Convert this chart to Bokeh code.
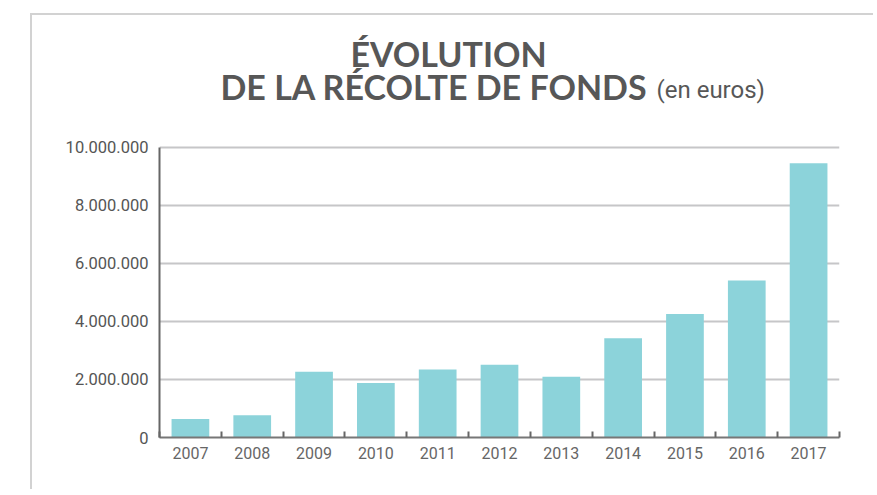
from bokeh.plotting import figure
from bokeh.models import Range1d, FixedTicker, Label
from bokeh.embed import file_html
from bokeh.resources import INLINE

years = ["2007", "2008", "2009", "2010", "2011", "2012", "2013", "2014", "2015", "2016", "2017"]
amounts = [640000, 770000, 2270000, 1880000, 2340000, 2510000, 2090000, 3420000, 4260000, 5410000, 9450000]
y_ticks = [0, 2000000, 4000000, 6000000, 8000000, 10000000]
y_tick_labels = ["0", "2.000.000", "4.000.000", "6.000.000", "8.000.000", "10.000.000"]

idx = list(range(len(years)))
bounds = [i - 0.5 for i in range(len(years) + 1)]
y_axis_top = y_ticks[-1]
y_view_top = 14200000  # extra headroom inside the frame holds the title

p = figure(width=843, height=476, output_backend="svg", toolbar_location=None,
           x_range=Range1d(-0.5, len(years) - 0.5), y_range=Range1d(0, y_view_top),
           min_border_left=127, min_border_right=36, min_border_top=10, min_border_bottom=54,
           styles={"margin-left": "30px", "margin-top": "13px",
                   "border-left": "2px solid #d2d2d2", "border-top": "2px solid #d2d2d2"})
p.outline_line_color = None

p.vbar(x=idx, top=amounts, width=0.61, color="#8cd3da", line_color=None)

xa = p.xaxis[0]
xa.ticker = FixedTicker(ticks=idx, minor_ticks=bounds)
xa.major_label_overrides = {i: y for i, y in zip(idx, years)}
xa.major_tick_line_color = None
xa.minor_tick_in = 6
xa.minor_tick_out = 0
xa.minor_tick_line_color = "#666666"
xa.minor_tick_line_width = 2
xa.axis_line_color = "#777777"
xa.axis_line_width = 2
xa.major_label_text_font = "Roboto"
xa.major_label_text_font_size = "16px"
xa.major_label_text_color = "#666666"
xa.major_label_standoff = 3

ya = p.yaxis[0]
ya.ticker = FixedTicker(ticks=y_ticks, minor_ticks=[])
ya.bounds = (0, y_axis_top)
ya.major_label_overrides = {t: l for t, l in zip(y_ticks, y_tick_labels)}
ya.major_tick_line_color = None
ya.minor_tick_line_color = None
ya.axis_line_color = "#666666"
ya.axis_line_width = 2
ya.major_label_text_font = "Roboto"
ya.major_label_text_font_size = "16.5px"
ya.major_label_text_color = "#555555"
ya.major_label_standoff = 5

p.xgrid.grid_line_color = None
p.ygrid.grid_line_color = "#c6c6c8"
p.ygrid.grid_line_width = 2

title_color = "#575757"
p.add_layout(Label(x=191, y=384, x_units="screen", y_units="screen", text="ÉVOLUTION",
                   text_font="Lato", text_font_style="bold", text_font_size="34px",
                   text_baseline="alphabetic", text_color=title_color))
p.add_layout(Label(x=61, y=351, x_units="screen", y_units="screen", text="DE LA RÉCOLTE DE FONDS",
                   text_font="Lato", text_font_style="bold", text_font_size="34px",
                   text_baseline="alphabetic", text_color=title_color))
p.add_layout(Label(x=497, y=348, x_units="screen", y_units="screen", text="(en euros)",
                   text_font="Roboto", text_font_size="24px",
                   text_baseline="alphabetic", text_color=title_color))

open("out.html", "w").write(file_html(p, INLINE))
